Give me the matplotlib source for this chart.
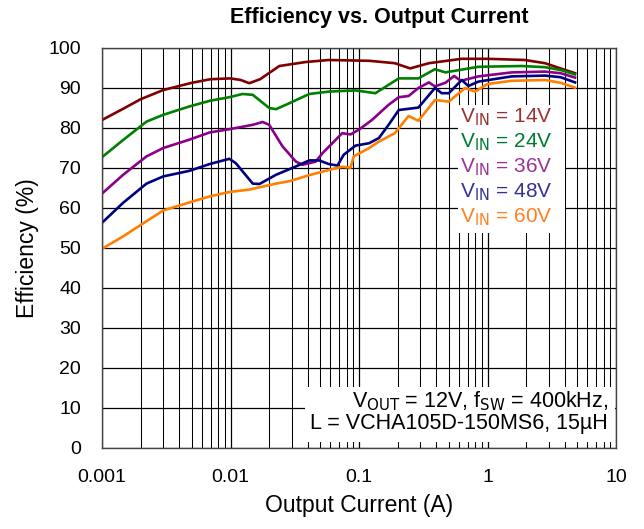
import matplotlib
matplotlib.use('Agg')
import matplotlib.pyplot as plt
from matplotlib.ticker import FixedLocator, NullFormatter
import numpy as np

plt.rcParams['font.family'] = ['Liberation Sans', 'DejaVu Sans']

# current (A) and efficiency (%)
i_14 = [0.001, 0.00146, 0.002, 0.003, 0.005, 0.007, 0.01, 0.012, 0.014, 0.017, 0.024,
        0.0386, 0.058, 0.12, 0.19, 0.25, 0.35, 0.63, 1.0, 1.96, 2.8, 3.7, 4.8]
eff_14 = [82.0, 84.8, 87.2, 89.5, 91.3, 92.2, 92.4, 92.0, 91.2, 92.2, 95.5,
          96.5, 97.0, 96.8, 96.2, 94.9, 96.2, 97.3, 97.3, 97.0, 96.2, 94.9, 93.7]

i_24 = [0.001, 0.00146, 0.00222, 0.003, 0.0048, 0.0069, 0.0098, 0.0124, 0.0149, 0.02,
        0.0226, 0.0287, 0.041, 0.058, 0.094, 0.134, 0.204, 0.29, 0.39, 0.47, 0.85,
        1.84, 2.8, 3.7, 4.8]
eff_24 = [72.7, 77.0, 81.6, 83.3, 85.4, 86.8, 87.7, 88.5, 88.3, 85.0,
          84.7, 86.2, 88.5, 89.1, 89.4, 88.7, 92.4, 92.4, 94.7, 93.9, 95.3,
          95.5, 95.2, 94.5, 93.4]

i_36 = [0.001, 0.00146, 0.00222, 0.003, 0.0048, 0.0069, 0.0098, 0.0149, 0.0178, 0.02,
        0.0254, 0.0323, 0.0363, 0.046, 0.052, 0.074, 0.086, 0.1, 0.126, 0.17, 0.204,
        0.243, 0.29, 0.35, 0.39, 0.47, 0.55, 0.62, 0.85, 1.54, 2.8, 3.7, 4.8]
eff_36 = [63.6, 68.3, 72.9, 75.0, 77.1, 78.9, 79.7, 80.8, 81.5, 80.8,
          75.4, 71.6, 70.8, 71.6, 73.7, 78.7, 78.4, 79.6, 82.0, 85.8, 87.7,
          88.0, 90.0, 91.4, 90.4, 91.3, 93.0, 91.8, 92.9, 93.9, 94.1, 93.7, 92.6]

i_48 = [0.001, 0.00146, 0.00222, 0.003, 0.0048, 0.0069, 0.0098, 0.011, 0.0149, 0.0168,
        0.0226, 0.0323, 0.041, 0.049, 0.058, 0.068, 0.076, 0.094, 0.12, 0.143, 0.17,
        0.204, 0.29, 0.39, 0.44, 0.5, 0.63, 0.71, 0.85, 1.54, 2.8, 3.7, 4.8]
eff_48 = [56.3, 61.3, 66.1, 67.9, 69.3, 71.0, 72.3, 71.2, 66.1, 66.0,
          68.3, 70.4, 71.9, 71.9, 71.0, 70.6, 73.3, 75.6, 76.2, 77.5, 80.8,
          84.5, 85.1, 90.0, 88.7, 88.7, 92.0, 90.5, 91.6, 92.9, 93.1, 92.7, 91.4]

i_60 = [0.001, 0.00146, 0.00222, 0.003, 0.0048, 0.0069, 0.0098, 0.014, 0.0226, 0.0287,
        0.041, 0.058, 0.074, 0.086, 0.091, 0.12, 0.143, 0.19, 0.243, 0.29, 0.39,
        0.5, 0.67, 0.8, 1.0, 1.54, 2.8, 3.7, 4.8]
eff_60 = [49.8, 52.9, 56.7, 59.4, 61.4, 62.9, 64.0, 64.6, 66.1, 66.7,
          68.2, 69.5, 70.3, 70.1, 72.9, 75.0, 76.6, 78.7, 83.0, 81.8, 87.0,
          86.6, 90.0, 89.1, 91.0, 91.8, 92.0, 91.3, 90.1]

series = [(i_14, eff_14, '#800000', '14V'),
          (i_24, eff_24, '#008000', '24V'),
          (i_36, eff_36, '#8B008B', '36V'),
          (i_48, eff_48, '#000080', '48V'),
          (i_60, eff_60, '#FF7F00', '60V')]
legend_colors = ['#993333', '#007A33', '#993399', '#333399', '#FF8020']

fig = plt.figure(figsize=(6.44, 5.29), dpi=100)
ax = fig.add_axes([102/644, 1 - 448/529, 514/644, 400/529])

for x, y, c, lab in series:
    ax.plot(x, y, color=c, lw=1.9, label=lab)

ax.set_xscale('log')
ax.set_xlim(0.001, 10)
ax.set_ylim(0, 100)
ax.set_yticks(range(0, 101, 10))
ax.set_xticks([0.001, 0.01, 0.1, 1, 10])
ax.set_xticklabels(['0.001', '0.01', '0.1', '1', '10'])
minors = [m * 10.0 ** e for e in range(-3, 1) for m in range(2, 10)]
ax.xaxis.set_minor_locator(FixedLocator(minors))
ax.xaxis.set_minor_formatter(NullFormatter())
ax.tick_params(which='both', length=0, labelsize=14)
ax.tick_params(axis='x', pad=15)
ax.tick_params(axis='y', pad=15)
ax.grid(which='major', color='black', lw=0.9)
ax.grid(which='minor', axis='x', color='black', lw=0.75)
ax.set_axisbelow(True)
for s in ax.spines.values():
    s.set_color('#444444')
    s.set_linewidth(1.0)

fig.text(379/644, 1 - 18/529, 'Efficiency vs. Output Current', fontsize=15.5,
         fontweight='bold', ha='center', va='center')
ax.set_xlabel('Output Current (A)', fontsize=16.5, labelpad=6)
ax.set_ylabel('Efficiency (%)', fontsize=16.5, labelpad=7)

# legend block
ax.add_patch(plt.Rectangle((0.6926, 0.5375), 0.208, 0.32, transform=ax.transAxes,
                           facecolor='white', edgecolor='none', zorder=3))
for k, (x, y, c, lab) in enumerate(series):
    ty = 0.8275 - k * 0.0625
    ax.text(0.6965, ty, r'V$_{\mathrm{IN}}$ = ' + lab, transform=ax.transAxes,
            color=legend_colors[k], fontsize=15, va='center', ha='left', zorder=4)

# conditions box
ax.add_patch(plt.Rectangle((0.395, 0.015), 0.603, 0.1375, transform=ax.transAxes,
                           facecolor='white', edgecolor='none', zorder=3))
ax.text(0.984, 0.1175, r'V$_{\mathrm{OUT}}$ = 12V, f$_{\mathrm{SW}}$ = 400kHz,',
        transform=ax.transAxes, fontsize=15.5, ha='right', va='center', zorder=4)
ax.text(0.984, 0.06, 'L = VCHA105D-150MS6, 15\u00b5H',
        transform=ax.transAxes, fontsize=15.5, ha='right', va='center', zorder=4)

plt.savefig('out.png', dpi=100)
